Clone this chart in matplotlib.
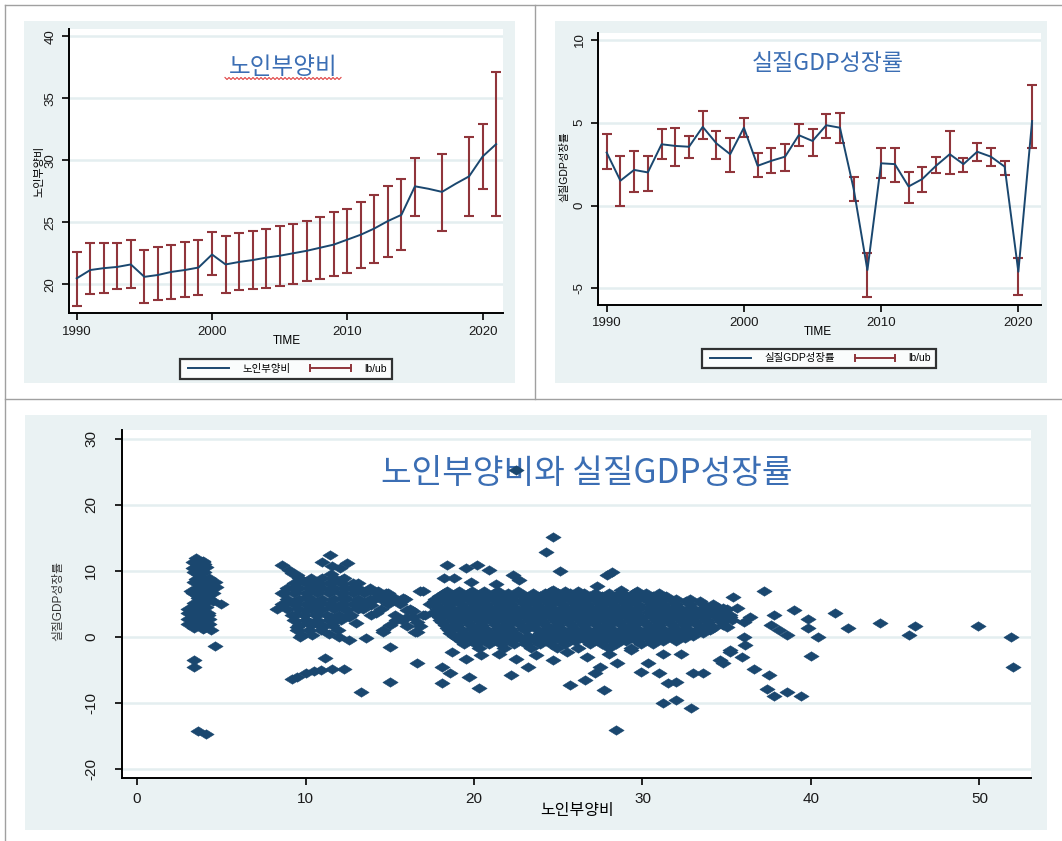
import numpy as np
import matplotlib
matplotlib.use('Agg')
import matplotlib.pyplot as plt
from matplotlib.patches import Rectangle
from matplotlib.lines import Line2D

plt.rcParams['font.family'] = ['Liberation Sans', 'Noto Sans CJK KR', 'DejaVu Sans']

# ---------------- data ----------------
years = list(range(1990, 2022))

dep_ratio = [20.48, 21.15, 21.3, 21.4, 21.6, 20.6, 20.75, 21.0, 21.15, 21.35,
             22.4, 21.6, 21.8, 21.95, 22.15, 22.3, 22.5, 22.7, 22.95, 23.2,
             23.6, 24.0, 24.5, 25.1, 25.6, 27.9, 27.7, 27.45, 28.1, 28.7,
             30.3, 31.3]
dep_ub = [22.63, 23.3, 23.3, 23.3, 23.6, 22.8, 23.0, 23.2, 23.4, 23.6,
          24.2, 23.9, 24.1, 24.3, 24.45, 24.7, 24.85, 25.1, 25.4, 25.8,
          26.1, 26.65, 27.2, 27.9, 28.5, 30.2, np.nan, 30.5, np.nan, 31.9,
          32.9, 37.1]
dep_lb = [18.28, 19.2, 19.3, 19.6, 19.7, 18.5, 18.7, 18.8, 19.0, 19.1,
          20.75, 19.3, 19.5, 19.6, 19.7, 19.9, 20.0, 20.3, 20.4, 20.7,
          20.9, 21.3, 21.7, 22.2, 22.8, 25.5, np.nan, 24.3, np.nan, 25.5,
          27.7, 25.5]

gdp_growth = [3.2, 1.5, 2.15, 2.0, 3.7, 3.6, 3.55, 4.75, 3.75, 3.1,
              4.7, 2.4, 2.7, 2.95, 4.25, 3.9, 4.85, 4.7, 1.0, -3.9,
              2.55, 2.5, 1.15, 1.6, 2.4, 3.1, 2.5, 3.25, 2.95, 2.35,
              -4.0, 5.1]
gdp_ub = [4.3, 3.0, 3.3, 3.0, 4.6, 4.7, 4.2, 5.7, 4.5, 4.05,
          5.3, 3.15, 3.45, 3.7, 4.95, 4.65, 5.55, 5.6, 1.75, -2.85,
          3.45, 3.5, 2.05, 2.3, 2.95, 4.5, 2.9, 3.75, 3.5, 2.7,
          -3.15, 7.3]
gdp_lb = [2.2, -0.05, 0.8, 0.9, 2.8, 2.4, 2.85, 4.0, 2.8, 2.0,
          4.15, 1.75, 1.95, 2.1, 3.6, 3.0, 4.05, 3.8, 0.25, -5.55,
          1.65, 1.4, 0.15, 0.8, 1.95, 1.9, 2.0, 2.7, 2.4, 1.85,
          -5.4, 3.45]

# scatter: (노인부양비, 실질GDP성장률) pairs, grouped by region of the cloud
cluster_low = [(3.5, 11.9), (3.9, 11.5), (3.3, 10.5), (3.8, 10.2), (4.0, 11.0), (3.6, 9.5),
               (3.5, 8.8), (4.0, 8.6), (4.5, 8.3), (3.7, 8.0), (4.2, 7.6), (3.2, 7.0),
               (3.8, 7.1), (4.4, 7.3), (3.6, 6.2), (4.1, 6.0), (4.5, 5.5), (5.0, 5.0),
               (3.0, 4.3), (3.5, 4.5), (4.1, 4.6), (3.3, 3.6), (3.8, 3.8), (4.2, 3.4),
               (3.0, 2.7), (3.5, 2.5), (4.0, 2.3), (4.3, 2.0), (3.4, 1.8), (3.9, 1.2),
               (4.4, 1.0), (4.6, -1.3), (3.4, -3.5), (3.4, -4.6), (3.6, -14.2), (4.1, -14.7)]
low_row_y = [11.3, 10.6, 9.8, 9.0, 8.3, 7.5, 6.7, 5.9, 5.2, 4.4, 3.6, 2.8, 2.0, 1.3]
low_row_x = [[3.3, 3.9], [3.5, 4.1], [3.4, 4.0], [3.7, 4.3], [3.4, 4.0, 4.6],
             [3.6, 4.2, 4.7], [3.3, 3.9, 4.5], [3.6, 4.2], [3.4, 4.0], [3.2, 3.8],
             [3.0, 3.6, 4.2], [3.2, 3.8, 4.3], [3.0, 3.6, 4.2], [3.4, 4.0]]

cluster_mid = [(11.45, 12.4), (10.95, 11.4), (12.45, 11.2), (12.05, 10.4), (11.6, 10.8),
               (8.6, 10.9), (9.0, 10.2), (9.5, 9.4), (9.8, 8.6), (9.2, 9.7),
               (8.7, 6.6), (8.3, 4.3), (9.3, 7.4), (9.3, 5.3), (9.4, 3.3), (9.5, 1.5),
               (9.7, 0.0), (10.1, 6.1), (10.1, 4.1), (10.2, 2.3), (10.7, 7.9), (10.8, 5.3),
               (10.7, 3.3), (11.0, 1.5), (11.5, 9.6), (11.5, 7.1), (11.6, 4.6), (11.8, 2.6),
               (12.1, 8.6), (12.3, 6.1), (12.4, 4.1), (11.95, 1.1), (12.8, 7.4), (13.2, 5.6),
               (12.6, 3.1), (13.7, 7.1), (14.0, 5.6), (13.4, 4.3), (14.6, 5.9), (14.2, 3.6),
               (15.2, 6.1), (15.6, 5.3), (16.0, 4.1), (16.8, 6.9), (16.4, 3.1), (17.0, 3.3),
               (15.4, 2.6), (16.0, 1.6), (16.6, 2.3), (14.6, 1.1), (15.0, 1.8), (13.0, 2.1),
               (11.5, 3.1), (10.5, 4.6), (13.1, 8.2), (14.3, 7.0), (14.8, 6.7), (13.9, 4.8),
               (12.6, -0.5), (13.6, -0.2), (15.0, -1.5), (14.6, 0.8), (16.6, 0.8), (12.0, 0.0),
               (11.4, 0.5), (11.15, -3.2), (10.9, -5.0), (11.6, -4.8), (12.3, -4.8), (9.5, -6.0),
               (10.0, -5.5), (9.2, -6.3), (10.5, -5.2), (13.3, -8.3), (15.0, -6.8), (16.6, -4.0)]
mid_row_y = [9.0, 8.2, 7.4, 6.6, 5.8, 5.0, 4.2, 3.4, 2.6, 1.8, 1.0, 0.3]
mid_row_x = [[9.6, 10.3, 11.0, 11.7, 12.3],
             [9.3, 10.0, 10.7, 11.4, 12.1, 12.8],
             [8.9, 9.6, 10.3, 11.0, 11.7, 12.4, 13.1, 13.8],
             [8.6, 9.3, 10.0, 10.7, 11.4, 12.1, 12.8, 13.5, 14.2, 14.9],
             [8.9, 9.6, 10.3, 11.0, 11.7, 12.4, 13.1, 13.8, 14.5, 15.2, 15.9],
             [8.6, 9.3, 10.0, 10.7, 11.4, 12.1, 12.8, 13.5, 14.9, 15.6],
             [8.9, 9.6, 10.3, 11.0, 11.7, 12.4, 13.1, 14.5, 16.2],
             [9.2, 9.9, 10.6, 11.3, 12.0, 12.7, 13.9, 15.3],
             [9.3, 10.0, 10.7, 11.4, 12.1, 15.7],
             [9.6, 10.3, 11.0, 11.6],
             [9.5, 10.2, 10.9],
             [9.8, 10.4]]

core_row_y = [7.0, 6.6, 6.2, 5.8, 5.4, 5.0, 4.6, 4.2, 3.8, 3.4, 3.0, 2.6, 2.2, 1.8,
              1.4, 1.0, 0.6, 0.2, -0.2, -0.6, -1.0, -1.6]
core_row_x = [
    [18.4, 19.1, 19.9, 20.6, 21.4, 22.6, 24.6, 25.4, 26.2, 29.7],
    [18.2, 19.0, 19.7, 20.5, 21.2, 22.0, 22.7, 23.5, 24.2, 25.0, 25.7, 26.5, 27.2, 28.0,
     28.7, 29.5, 30.2, 31.0],
    [17.9, 18.6, 19.4, 20.1, 20.9, 21.6, 22.4, 23.1, 23.9, 24.6, 25.4, 26.1, 26.9, 27.6,
     28.4, 29.1, 29.9, 30.6, 31.4],
    [17.7, 18.5, 19.2, 20.0, 20.7, 21.5, 22.2, 23.0, 23.7, 24.5, 25.2, 26.0, 26.7, 27.5,
     28.2, 29.0, 29.7, 30.5, 31.2, 32.0, 32.8],
    [17.6, 18.3, 19.0, 19.8, 20.5, 21.3, 22.0, 22.8, 23.5, 24.3, 25.0, 25.8, 26.5, 27.3,
     28.0, 28.8, 29.5, 30.3, 31.0, 31.8, 32.6, 33.4],
    [17.7, 18.5, 19.2, 20.0, 20.7, 21.5, 22.2, 23.0, 23.7, 24.5, 25.2, 26.0, 26.7, 27.5,
     28.2, 29.0, 29.7, 30.5, 31.2, 32.0, 32.8, 33.6, 34.2],
    [17.9, 18.6, 19.4, 20.1, 20.9, 21.6, 22.4, 23.1, 23.9, 24.6, 25.4, 26.1, 26.9, 27.6,
     28.4, 29.1, 29.9, 30.6, 31.4, 32.1, 32.9, 33.7, 34.4],
    [17.8, 18.5, 19.2, 20.0, 20.7, 21.5, 22.2, 23.0, 23.7, 24.5, 25.2, 26.0, 26.7, 27.5,
     28.2, 29.0, 29.7, 30.5, 31.2, 32.0, 32.8, 33.6, 34.4, 35.0],
    [17.6, 18.3, 19.0, 19.8, 20.5, 21.3, 22.0, 22.8, 23.5, 24.3, 25.0, 25.8, 26.5, 27.3,
     28.0, 28.8, 29.5, 30.3, 31.0, 31.8, 32.5, 33.3, 34.0, 34.8],
    [17.8, 18.5, 19.2, 20.0, 20.7, 21.5, 22.2, 23.0, 23.7, 24.5, 25.2, 26.0, 26.7, 27.5,
     28.2, 29.0, 29.7, 30.5, 31.2, 32.0, 32.8, 33.6, 34.4, 35.2],
    [17.9, 18.6, 19.4, 20.1, 20.9, 21.6, 22.4, 23.1, 23.9, 24.6, 25.4, 26.1, 26.9, 27.6,
     28.4, 29.1, 29.9, 30.6, 31.4, 32.1, 32.9, 33.6, 34.4, 35.2],
    [18.0, 18.8, 19.5, 20.3, 21.0, 21.8, 22.5, 23.3, 24.0, 24.8, 25.5, 26.3, 27.0, 27.8,
     28.5, 29.3, 30.0, 30.8, 31.5, 32.3, 33.0, 33.8, 34.6, 35.3],
    [18.1, 18.9, 19.6, 20.4, 21.1, 21.9, 22.6, 23.4, 24.1, 24.9, 25.6, 26.4, 27.1, 27.9,
     28.6, 29.4, 30.1, 30.9, 31.6, 32.4, 33.1, 33.9, 34.7],
    [18.3, 19.0, 19.8, 20.5, 21.3, 22.0, 22.8, 23.5, 24.3, 25.0, 25.8, 26.5, 27.3, 28.0,
     28.8, 29.5, 30.3, 31.0, 31.8, 32.5, 33.3, 34.0, 34.8],
    [18.4, 19.1, 19.9, 20.6, 21.4, 22.1, 22.9, 23.6, 24.4, 25.1, 25.9, 26.6, 27.4, 28.1,
     28.9, 29.6, 30.4, 31.1, 31.9, 32.6, 33.4, 34.2],
    [18.5, 19.2, 20.0, 20.7, 21.5, 22.2, 23.0, 24.3, 25.0, 25.8, 26.5, 27.3, 28.0, 28.8,
     29.5, 30.3, 31.0, 31.8, 32.5, 33.3, 34.0],
    [18.6, 19.4, 20.1, 20.9, 21.6, 22.4, 23.9, 24.6, 25.4, 26.1, 26.9, 27.6, 28.4, 29.1,
     29.9, 30.6, 31.4, 32.1, 32.9, 33.6],
    [18.8, 19.6, 20.3, 21.1, 21.8, 22.6, 23.2, 24.0, 24.8, 25.5, 26.3, 27.0, 27.8, 28.5,
     29.3, 30.0, 30.8, 31.5, 32.3, 33.0],
    [19.0, 19.8, 20.5, 21.3, 22.0, 22.8, 23.5, 24.3, 25.0, 25.8, 26.5, 27.3, 28.0, 28.8,
     29.5, 30.3, 31.0, 31.8, 32.5],
    [19.2, 20.0, 20.7, 21.5, 22.2, 23.0, 23.7, 24.5, 25.2, 26.0, 26.7, 27.5, 28.2, 29.0,
     29.7, 30.5, 31.2, 32.0],
    [19.4, 20.1, 20.9, 21.6, 22.4, 23.1, 23.9, 24.6, 25.4, 26.9, 27.6, 28.4, 29.9, 30.6],
    [20.3, 21.8, 23.4, 24.9, 26.2, 28.0, 29.3],
]

cluster_outer = [(24.7, 15.2), (24.3, 12.9), (25.1, 10.0), (18.4, 10.9), (28.2, 9.9), (27.9, 9.4),
                 (19.5, 10.5), (20.2, 10.9), (20.9, 10.1), (18.2, 8.9), (18.8, 8.9), (22.3, 9.4),
                 (22.7, 8.6), (27.3, 7.8), (28.7, 7.1), (24.7, 7.1), (21.3, 8.0), (19.8, 8.3),
                 (17.0, 6.9), (22.5, 25.3),
                 (15.8, 5.9), (16.4, 4.0), (16.0, 3.1), (17.1, 3.4), (16.8, 1.6), (16.5, 0.8), (17.4, 5.0),
                 (18.7, -2.3), (19.5, -3.3), (20.4, -2.7), (21.5, -2.5), (22.5, -3.3), (23.7, -2.7),
                 (24.7, -3.5), (23.2, -4.5), (18.1, -4.5), (18.6, -5.5), (19.7, -6.0),
                 (22.2, -5.8), (18.1, -7.0), (20.3, -7.8), (25.7, -7.3), (26.6, -6.5), (27.7, -8.0),
                 (26.7, -3.0), (27.5, -4.5), (28.5, -4.0), (29.9, -5.3), (31.0, -5.5), (30.3, -4.0),
                 (31.2, -2.5), (32.3, -2.5), (31.5, -7.0), (32.0, -6.8), (31.2, -10.0), (32.0, -9.6),
                 (32.9, -10.8), (28.4, -14.1), (33.0, -5.5), (33.6, -5.5), (34.6, -3.5), (35.2, -2.2),
                 (25.5, -2.2), (28.0, -2.5), (29.3, -2.0), (27.2, -5.5),
                 (37.2, 6.9), (35.4, 6.1), (34.8, 4.4), (35.6, 4.4), (39.0, 4.1), (37.8, 3.4),
                 (36.4, 3.1), (39.8, 2.8), (41.4, 3.6), (39.8, 1.3), (42.2, 1.3), (44.1, 2.1),
                 (46.2, 1.6), (45.8, 0.3), (49.9, 1.7), (51.9, -0.06), (52.0, -4.6), (37.6, 1.8),
                 (38.1, 1.0), (38.6, 0.3), (40.4, -0.06), (40.0, -2.9), (36.0, 0.0), (36.1, -1.2),
                 (35.9, -3.0), (35.2, -2.0), (34.8, -4.0), (36.6, -4.9), (37.5, -5.7), (37.4, -7.9),
                 (37.8, -8.9), (38.6, -8.4), (39.4, -9.0), (36.0, 2.2), (35.0, 1.5)]

# ---------------- style ----------------
NAVY = '#1a476f'
MAROON = '#90353b'
BG = '#eaf2f3'
GRID = '#e4eef0'
TITLE_BLUE = '#3b6eb4'
W, H = 1062, 841

fig = plt.figure(figsize=(W / 100, H / 100), dpi=100)
fig.patch.set_facecolor('white')


def fx(px):
    return px / W


def fy(py):
    return 1 - py / H


def panel(x0, y0, x1, y1):
    fig.add_artist(Rectangle((fx(x0), fy(y1)), fx(x1) - fx(x0), fy(y0) - fy(y1),
                             transform=fig.transFigure, facecolor=BG,
                             edgecolor='none', zorder=-5))


def make_axes(x0, y0, x1, y1, labelsize):
    ax = fig.add_axes([fx(x0), fy(y1), fx(x1) - fx(x0), fy(y0) - fy(y1)])
    ax.set_facecolor('white')
    for s in ['top', 'right']:
        ax.spines[s].set_visible(False)
    for s in ['left', 'bottom']:
        ax.spines[s].set_linewidth(1.4)
        ax.spines[s].set_color('black')
    ax.tick_params(direction='out', length=5, width=1.2, colors='black',
                   labelsize=labelsize, labelcolor='#1a1a1a')
    ax.grid(axis='y', color=GRID, lw=1.8)
    ax.set_axisbelow(True)
    return ax


def set_yticks_rot(ax, ticks, size, pad):
    ax.set_yticks(ticks)
    ax.set_yticklabels([str(t) for t in ticks], rotation=90, va='center',
                       fontsize=size)
    ax.tick_params(axis='y', pad=pad)


# table lines
for (xa, ya, xb, yb) in [(5, 5, W, 5), (5, 5, 5, H), (5, 399, W, 399), (535, 5, 535, 399)]:
    fig.add_artist(Line2D([fx(xa), fx(xb)], [fy(ya), fy(yb)], transform=fig.transFigure,
                          color='#a0a0a0', lw=1.0, zorder=-4))

panel(24, 21, 515, 383)
panel(555, 21, 1047, 383)
panel(25, 415, 1047, 830)

# ---------- top-left: 노인부양비 ----------
ax1 = make_axes(69.3, 29.3, 503.3, 313.3, 9.5)
ax1.vlines(years, dep_lb, dep_ub, color=MAROON, lw=1.5, zorder=2)
ax1.plot(years, dep_lb, linestyle='none', marker='_', ms=7, mew=1.5, color=MAROON, zorder=2)
ax1.plot(years, dep_ub, linestyle='none', marker='_', ms=7, mew=1.5, color=MAROON, zorder=2)
ax1.plot(years, dep_ratio, color=NAVY, lw=1.4, zorder=3)
ax1.set_xlim(1989.45, 2021.53)
ax1.set_ylim(17.66, 40.56)
ax1.set_xticks([1990, 2000, 2010, 2020])
ax1.tick_params(axis='x', pad=4)
set_yticks_rot(ax1, [20, 25, 30, 35, 40], 9.5, 4)

fig.text(fx(283), fy(67), '노인부양비', fontsize=17, color=TITLE_BLUE,
         family=['Noto Sans CJK KR'], ha='center', va='center')
zz_x = np.arange(225, 342, 2.0)
zz_y = np.where((np.arange(len(zz_x)) % 2) == 0, 77.5, 79.5)
fig.add_artist(Line2D(fx(zz_x), fy(zz_y), transform=fig.transFigure,
                      color='#e04040', lw=0.8))
fig.text(fx(287), fy(341), 'TIME', fontsize=8.5, ha='center', va='center')
fig.text(fx(39), fy(171), '노인부양비', fontsize=8, rotation=90,
         ha='center', va='center')

h_line = Line2D([], [], color=NAVY, lw=1.4)
h_err = Line2D([], [], color=MAROON, lw=1.4, marker='|', ms=6, mew=1.4)
leg1 = fig.legend([h_line, h_err], ['노인부양비', 'lb/ub'], loc='center',
                  bbox_to_anchor=(fx(286), fy(369)), ncol=2, frameon=True,
                  fancybox=False, edgecolor='black', fontsize=7.5,
                  handlelength=4.5, handletextpad=1.0, columnspacing=1.6,
                  borderpad=0.45, numpoints=2)
leg1.get_frame().set_linewidth(1.6)

# ---------- top-right: 실질GDP성장률 ----------
ax2 = make_axes(598.3, 32.7, 1041, 305, 9.5)
ax2.vlines(years, gdp_lb, gdp_ub, color=MAROON, lw=1.5, zorder=2)
ax2.plot(years, gdp_lb, linestyle='none', marker='_', ms=7, mew=1.5, color=MAROON, zorder=2)
ax2.plot(years, gdp_ub, linestyle='none', marker='_', ms=7, mew=1.5, color=MAROON, zorder=2)
ax2.plot(years, gdp_growth, color=NAVY, lw=1.4, zorder=3)
ax2.set_xlim(1989.39, 2021.65)
ax2.set_ylim(-6.01, 10.44)
ax2.set_xticks([1990, 2000, 2010, 2020])
ax2.tick_params(axis='x', pad=4)
set_yticks_rot(ax2, [-5, 0, 5, 10], 9.5, 4)

fig.text(fx(828), fy(63), '실질GDP성장률', fontsize=16.5, color=TITLE_BLUE,
         family=['Noto Sans CJK KR'], ha='center', va='center')
fig.text(fx(818), fy(332), 'TIME', fontsize=8.5, ha='center', va='center')
fig.text(fx(564), fy(167), '실질GDP성장률', fontsize=7.5, rotation=90,
         ha='center', va='center')
leg2 = fig.legend([h_line, h_err], ['실질GDP성장률', 'lb/ub'], loc='center',
                  bbox_to_anchor=(fx(819), fy(358.5)), ncol=2, frameon=True,
                  fancybox=False, edgecolor='black', fontsize=7.5,
                  handlelength=4.5, handletextpad=1.0, columnspacing=1.6,
                  borderpad=0.45, numpoints=2)
leg2.get_frame().set_linewidth(1.6)

# ---------- bottom: scatter ----------
ax3 = make_axes(121.7, 430, 1031, 778, 11)
pts = list(cluster_low) + list(cluster_mid) + list(cluster_outer)
for rows_y, rows_x in [(low_row_y, low_row_x), (mid_row_y, mid_row_x), (core_row_y, core_row_x)]:
    for ry, rx in zip(rows_y, rows_x):
        pts += [(v, ry) for v in rx]
sx = [p[0] for p in pts]
sy = [p[1] for p in pts]
diamond = [(-1.0, 0.0), (0.0, 0.62), (1.0, 0.0), (0.0, -0.62), (-1.0, 0.0)]
ax3.plot(sx, sy, linestyle='none', marker=diamond, ms=11, mfc=NAVY, mec=NAVY,
         mew=0.4, zorder=3)
ax3.set_xlim(-0.91, 53.06)
ax3.set_ylim(-21.36, 31.36)
ax3.set_xticks([0, 10, 20, 30, 40, 50])
ax3.tick_params(axis='x', pad=5)
set_yticks_rot(ax3, [-20, -10, 0, 10, 20, 30], 11, 12)

ax3.text(fx(587), fy(474), '노인부양비와 실질GDP성장률', transform=fig.transFigure,
         fontsize=24, color=TITLE_BLUE, family=['Noto Sans CJK KR'],
         ha='center', va='center', zorder=1)
fig.text(fx(577), fy(811), '노인부양비', fontsize=11.5, ha='center', va='center')
fig.text(fx(58), fy(601), '실질GDP성장률', fontsize=8.5, rotation=90,
         ha='center', va='center', color='#333333')

fig.savefig('out.png', dpi=100, facecolor='white')
